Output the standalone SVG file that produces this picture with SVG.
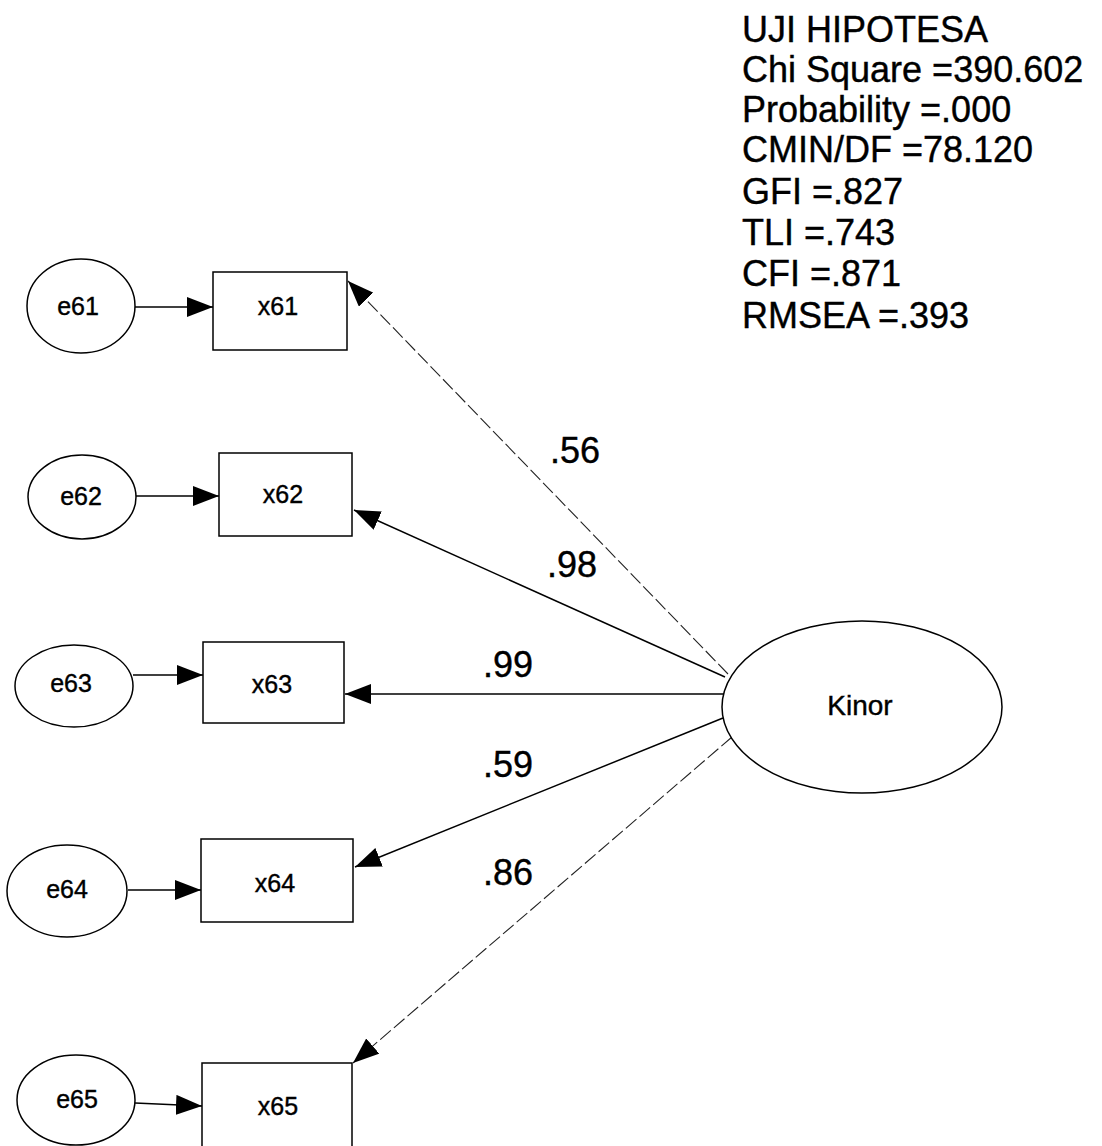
<svg xmlns="http://www.w3.org/2000/svg" width="1102" height="1146" viewBox="0 0 1102 1146">
<style>
.bg{fill:#fff}
.node{fill:#fff;stroke:#000;stroke-width:1.5}
.nt{font-family:"Liberation Sans",Arial,sans-serif;font-size:25px;fill:#000;stroke:#000;stroke-width:0.4;text-anchor:middle}
.big{font-family:"Liberation Sans",Arial,sans-serif;font-size:36px;fill:#000;stroke:#000;stroke-width:0.4}
.con{fill:none;stroke:#000;stroke-width:1.5}
.thin{fill:none;stroke:#222;stroke-width:1.1;stroke-dasharray:14 4}
</style>
<defs>
<marker id="ah" markerUnits="userSpaceOnUse" markerWidth="26" markerHeight="20" refX="26" refY="10" orient="auto">
<path d="M0,0 L26,10 L0,20 z" fill="#000"/>
</marker>
</defs>
<rect class="bg" x="0" y="0" width="1102" height="1146"/>

<g id="connectors">
<line class="con" x1="135" y1="307" x2="213" y2="307" marker-end="url(#ah)"/>
<line class="con" x1="136" y1="496" x2="219" y2="496" marker-end="url(#ah)"/>
<line class="con" x1="133" y1="675" x2="203" y2="675" marker-end="url(#ah)"/>
<line class="con" x1="128" y1="890" x2="201" y2="890" marker-end="url(#ah)"/>
<line class="con" x1="135" y1="1103" x2="202" y2="1106" marker-end="url(#ah)"/>
<line class="thin" x1="728" y1="674" x2="348" y2="281" marker-end="url(#ah)"/>
<line class="con" x1="725" y1="677" x2="354" y2="510" marker-end="url(#ah)"/>
<line class="con" x1="724" y1="694" x2="345" y2="694" marker-end="url(#ah)"/>
<line class="con" x1="723" y1="718" x2="355" y2="867" marker-end="url(#ah)"/>
<line class="thin" x1="732" y1="737" x2="353" y2="1063" marker-end="url(#ah)"/>
<text class="big" x="550" y="463">.56</text>
<text class="big" x="547" y="577">.98</text>
<text class="big" x="483" y="677">.99</text>
<text class="big" x="483" y="777">.59</text>
<text class="big" x="483" y="885">.86</text>
</g>

<g id="e61"><ellipse class="node" cx="81" cy="306" rx="54" ry="47"/><text class="nt" x="78" y="315">e61</text></g>
<g id="e62"><ellipse class="node" cx="82" cy="497" rx="54" ry="42"/><text class="nt" x="81" y="505">e62</text></g>
<g id="e63"><ellipse class="node" cx="74" cy="686" rx="59" ry="41"/><text class="nt" x="71" y="692">e63</text></g>
<g id="e64"><ellipse class="node" cx="67" cy="891" rx="60" ry="46"/><text class="nt" x="67" y="898">e64</text></g>
<g id="e65"><ellipse class="node" cx="76" cy="1100" rx="59" ry="45"/><text class="nt" x="77" y="1108">e65</text></g>

<g id="x61"><rect class="node" x="213" y="272" width="134" height="78"/><text class="nt" x="278" y="315">x61</text></g>
<g id="x62"><rect class="node" x="219" y="453" width="133" height="83"/><text class="nt" x="283" y="503">x62</text></g>
<g id="x63"><rect class="node" x="203" y="642" width="141" height="81"/><text class="nt" x="272" y="693">x63</text></g>
<g id="x64"><rect class="node" x="201" y="839" width="152" height="83"/><text class="nt" x="275" y="892">x64</text></g>
<g id="x65"><rect class="node" x="202" y="1063" width="150" height="100"/><text class="nt" x="278" y="1115">x65</text></g>

<g id="Kinor"><ellipse class="node" cx="862" cy="707" rx="140" ry="86"/><text class="nt" x="860" y="715" style="font-size:28px">Kinor</text></g>

<g id="stats">
<text class="big" x="742" y="42">UJI HIPOTESA</text>
<text class="big" x="742" y="82">Chi Square =390.602</text>
<text class="big" x="742" y="122">Probability =.000</text>
<text class="big" x="742" y="162">CMIN/DF =78.120</text>
<text class="big" x="742" y="204">GFI =.827</text>
<text class="big" x="742" y="245">TLI =.743</text>
<text class="big" x="742" y="286">CFI =.871</text>
<text class="big" x="742" y="328">RMSEA =.393</text>
</g>
</svg>
